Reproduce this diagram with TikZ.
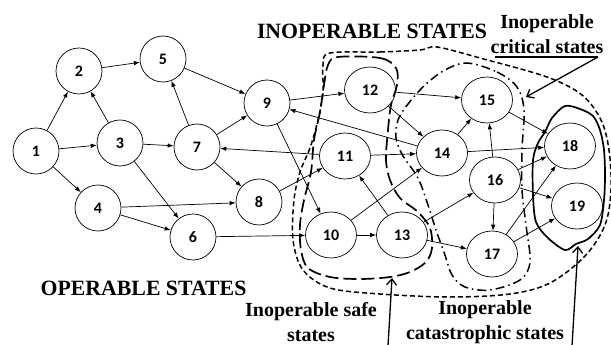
\documentclass[tikz,border=0pt]{standalone}
\usepackage{fontspec}
\setmainfont{Liberation Serif}
\newfontfamily\numfont{Carlito}
\usetikzlibrary{shapes.geometric,arrows.meta}
\tikzset{
  st/.style={draw,circle,line width=0.7pt,minimum size=46pt,inner sep=0pt,font=\numfont\bfseries\fontsize{16}{18}\selectfont},
  ste/.style={draw,ellipse,line width=0.7pt,minimum width=51pt,minimum height=46pt,inner sep=0pt,font=\numfont\bfseries\fontsize{16}{18}\selectfont},
  edge/.style={line width=0.7pt,-{Latex[length=6pt,width=4.5pt]}},
  lbl/.style={font=\bfseries\fontsize{20}{25}\selectfont,align=center,inner sep=0pt},
  caps/.style={font=\bfseries\fontsize{21.8}{25}\selectfont,inner sep=0pt},
  pointer/.style={line width=1.3pt,-{Straight Barb[length=6pt,width=10pt]}},
  allreg/.style={line width=1.5pt,dash pattern=on 5pt off 3pt},
  saferreg/.style={line width=1.7pt,dash pattern=on 13pt off 5pt},
  critreg/.style={line width=1.5pt,dash pattern=on 9pt off 4pt on 1.5pt off 4pt},
  catreg/.style={line width=1.7pt}
}
\begin{document}
\begin{tikzpicture}[x=1pt,y=-1pt]
\useasboundingbox (0,0) rectangle (611,345);
% regions
\draw[allreg] plot[smooth cycle,tension=0.55] coordinates {(330,53) (380,52) (420,50) (437,47) (480,58) (547,77) (582,95) (601,120) (609,150) (611,190) (605,225) (585,256) (550,283) (510,294) (450,297) (380,294) (330,288) (303,270) (293,240) (294,200) (300,172) (310,148) (318,120) (323,92) (323,65)};
\draw[saferreg] plot[smooth cycle,tension=0.55] coordinates {(338,57) (380,58) (396,68) (397,85) (391,105) (388,130) (386,160) (390,180) (400,198) (418,212) (430,228) (432,248) (426,262) (410,272) (390,277) (360,279) (330,277) (308,268) (301,250) (300,225) (304,200) (311,172) (314,140) (320,112) (324,85) (328,65)};
\draw[critreg] plot[smooth cycle,tension=0.55] coordinates {(467,63) (497,72) (517,87) (524,110) (522,150) (522,190) (526,225) (530,262) (520,280) (490,290) (465,287) (452,275) (445,255) (436,230) (428,205) (418,178) (403,156) (396,138) (398,120) (408,104) (425,85) (445,70)};
\draw[catreg] plot[smooth cycle,tension=0.5] coordinates {(565,106) (580,109) (593,116) (600,130) (604,150) (605,175) (604,200) (600,225) (588,239) (576,244) (565,250) (548,238) (536,222) (533,195) (533,160) (538,143) (545,132) (552,118)};
% nodes
\node[st] (n1) at (36,151) {1};
\node[st] (n2) at (79,71) {2};
\node[st] (n3) at (120,143) {3};
\node[st] (n4) at (98,208) {4};
\node[st] (n5) at (163,59) {5};
\node[st] (n6) at (193,237) {6};
\node[st] (n7) at (197,147) {7};
\node[st] (n8) at (259,202) {8};
\node[st] (n9) at (267,103) {9};
\node[ste] (n10) at (331,235) {10};
\node[ste] (n11) at (345,156) {11};
\node[ste] (n12) at (370,90) {12};
\node[ste] (n13) at (402,235) {13};
\node[ste] (n14) at (442,153) {14};
\node[ste] (n15) at (487,100) {15};
\node[ste] (n16) at (495,180) {16};
\node[ste] (n17) at (492,254) {17};
\node[ste] (n18) at (570,146) {18};
\node[ste] (n19) at (577,206) {19};
% edges
\draw[edge] (n1) -- (n2);
\draw[edge] (n1) -- (n3);
\draw[edge] (n1) -- (n4);
\draw[edge] (n3) -- (n2);
\draw[edge] (n3) -- (n7);
\draw[edge] (n3) -- (n6);
\draw[edge] (n2) -- (n5);
\draw[edge] (n7) -- (n5);
\draw[edge] (n7) -- (n9);
\draw[edge] (n7) -- (n8);
\draw[edge] (n5) -- (n9);
\draw[edge] (n4) -- (n8);
\draw[edge] (n4) -- (n6);
\draw[edge] (n6) -- (n10);
\draw[edge] (n9) -- (n12);
\draw[edge] (n9) -- (n10);
\draw[edge] (n11) -- (n7);
\draw[edge] (n14) -- (n9);
\draw[edge] (n8) -- (n11);
\draw[edge] (n11) -- (n14);
\draw[edge] (n12) -- (n15);
\draw[edge] (n12) -- (n14);
\draw[edge] (n10) -- (n14);
\draw[edge] (n10) -- (n13);
\draw[edge] (n13) -- (n11);
\draw[edge] (n13) -- (n16);
\draw[edge] (n13) -- (n17);
\draw[edge] (n14) -- (n15);
\draw[edge] (n14) -- (n18);
\draw[edge] (n16) -- (n15);
\draw[edge] (n16) -- (n18);
\draw[edge] (n16) -- (n19);
\draw[edge] (n16) -- (n17);
\draw[edge] (n15) -- (n18);
\draw[edge] (n17) -- (n18);
\draw[edge] (n17) -- (n19);
% labels
\node[caps] (tinop) at (372,31) {INOPERABLE STATES};
\node[caps] (top) at (143.5,288) {OPERABLE STATES};
\node[lbl] (tcrit) at (547,34) {Inoperable\\critical states};
\node[lbl] (tsafe) at (311,322) {Inoperable safe\\states};
\node[lbl] (tcat) at (485,322) {Inoperable\\catastrophic states};
% pointers
\coordinate (ul) at (495,57);
\coordinate (ur) at (598,57);
\coordinate (critpt) at (526,97);
\draw[line width=1.3pt] (ul) -- (ur);
\draw[pointer] (ur) -- (critpt);
\coordinate (safefoot) at (388,346);
\coordinate (safept) at (392,278);
\draw[pointer] (safefoot) -- (safept);
\coordinate (catfoot) at (572,346);
\coordinate (catpt) at (578,246);
\draw[pointer] (catfoot) -- (catpt);
\end{tikzpicture}
\end{document}
